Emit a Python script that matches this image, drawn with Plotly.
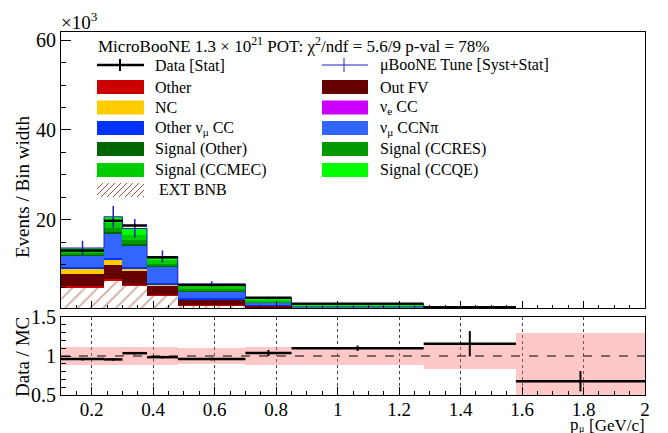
import numpy as np
import plotly.graph_objects as go

# ---------------- data (events / bin width, x10^3) ----------------
bin_edges = [0.1, 0.24, 0.3, 0.38, 0.48, 0.7, 0.85, 1.28, 1.58, 2.0]

ext_bnb       = [5.0, 6.6, 5.3, 3.1, 1.0, 0.4, 0.12, 0.05, 0.02]
other         = [0.25, 0.3, 0.2, 0.2, 0.15, 0.1, 0.05, 0.02, 0.01]
out_fv        = [2.75, 3.1, 3.2, 2.0, 1.05, 0.4, 0.15, 0.06, 0.03]
nc            = [1.1, 1.1, 0.4, 0.25, 0.1, 0.05, 0.02, 0.01, 0.005]
nue_cc        = [0.05, 0.05, 0.05, 0.03, 0.02, 0.02, 0.01, 0.005, 0.002]
other_numu_cc = [0.3, 0.4, 0.4, 0.3, 0.2, 0.1, 0.05, 0.02, 0.01]
numu_ccnpi    = [2.65, 5.45, 4.85, 3.72, 1.58, 0.53, 0.3, 0.12, 0.05]
sig_other     = [0.2, 0.3, 0.3, 0.2, 0.15, 0.1, 0.05, 0.02, 0.01]
sig_ccres     = [0.4, 0.8, 0.8, 0.5, 0.35, 0.25, 0.12, 0.05, 0.02]
sig_ccmec     = [0.45, 1.3, 1.2, 0.7, 0.5, 0.3, 0.15, 0.05, 0.02]
sig_ccqe      = [0.6, 1.3, 1.4, 0.85, 0.65, 0.35, 0.18, 0.07, 0.03]

data_vals = [13.2, 19.8, 18.75, 11.67, 5.52, 2.70, 1.32, 0.55, 0.14]
data_errs = [0.25, 0.35, 0.3, 0.2, 0.1, 0.1, 0.04, 0.077, 0.027]
mc_rel_err_up = [0.115, 0.115, 0.115, 0.115, 0.105, 0.115, 0.115, 0.165, 0.30]
mc_rel_err_dn = [0.115, 0.115, 0.115, 0.115, 0.105, 0.115, 0.115, 0.165, 0.50]

y_ticks_top = [20, 40, 60]

# ---------------- derived ----------------
edges = np.array(bin_edges)
centers = (edges[:-1] + edges[1:]) / 2
widths = np.diff(edges)

stack = [
    ("EXT BNB", ext_bnb, "white"),
    ("Other", other, "#cc0000"),
    ("Out FV", out_fv, "#660000"),
    ("NC", nc, "#ffcc00"),
    ("nue CC", nue_cc, "#cc00ff"),
    ("Other numu CC", other_numu_cc, "#0033ff"),
    ("numu CCNpi", numu_ccnpi, "#3366ff"),
    ("Signal (Other)", sig_other, "#006600"),
    ("Signal (CCRES)", sig_ccres, "#009900"),
    ("Signal (CCMEC)", sig_ccmec, "#00cc00"),
    ("Signal (CCQE)", sig_ccqe, "#00ff00"),
]

FONT = "Liberation Serif"
HATCH = "#a3553d"
MCBLUE = "#2020c0"

fig = go.Figure()

base = np.zeros(len(centers))
for name, vals, col in stack:
    v = np.array(vals, dtype=float)
    marker = dict(color=col, line=dict(width=0))
    if name == "EXT BNB":
        marker["pattern"] = dict(shape="/", fgcolor=HATCH, bgcolor="white",
                                 size=9, solidity=0.2)
    fig.add_trace(go.Bar(x=centers, y=v, base=base.copy(), width=widths,
                         marker=marker, name=name, xaxis="x", yaxis="y",
                         hoverinfo="skip"))
    base = base + v
mc_total = base

up = np.array(mc_rel_err_up)
dn = np.array(mc_rel_err_dn)

# MC outline
fig.add_trace(go.Scatter(x=edges, y=list(mc_total) + [mc_total[-1]],
                         mode="lines", line=dict(shape="hv", color=MCBLUE, width=1),
                         xaxis="x", yaxis="y", hoverinfo="skip"))
# MC error bars
fig.add_trace(go.Scatter(x=centers, y=mc_total, mode="markers",
                         marker=dict(size=1, color=MCBLUE),
                         error_y=dict(type="data", symmetric=False, array=up * mc_total,
                                      arrayminus=dn * mc_total, width=0,
                                      thickness=1.5, color=MCBLUE),
                         xaxis="x", yaxis="y", hoverinfo="skip"))
# Data
fig.add_trace(go.Scatter(x=centers, y=data_vals, mode="markers",
                         marker=dict(size=1, color="black"),
                         error_x=dict(type="data", array=widths / 2, width=0,
                                      thickness=2.5, color="black"),
                         error_y=dict(type="data", array=data_errs, width=0,
                                      thickness=2, color="black"),
                         xaxis="x", yaxis="y", hoverinfo="skip"))

# ---------------- ratio panel ----------------
fig.add_trace(go.Bar(x=centers, base=1 - dn, y=up + dn, width=widths,
                     marker=dict(color="rgba(255,110,110,0.38)", line=dict(width=0)),
                     xaxis="x2", yaxis="y2", hoverinfo="skip"))
ratio = np.array(data_vals) / mc_total
ratio_err = np.array(data_errs) / mc_total
fig.add_trace(go.Scatter(x=centers, y=ratio, mode="markers",
                         marker=dict(size=1, color="black"),
                         error_x=dict(type="data", array=widths / 2, width=0,
                                      thickness=2.5, color="black"),
                         error_y=dict(type="data", array=ratio_err, width=0,
                                      thickness=2, color="black"),
                         xaxis="x2", yaxis="y2", hoverinfo="skip"))

# ---------------- layout ----------------
# The page body adds an 8px offset; the figure is sized so that its
# plot area lands on the reference pixels (61..645, 32..395).
OFF = 8
L, T = 61, 32           # reference pixel of plot-area top-left
PW, PH = 584, 363       # plot-area size
W, H = 668 - OFF, 433 - OFF
ml, mt = L - OFF, T - OFF
mr = W - ml - PW
mb = H - mt - PH


def px(x):
    return (x - L) / PW


def py(y):
    return (T + PH - y) / PH


axis_common = dict(showline=True, linecolor="black", linewidth=1, mirror=True,
                   zeroline=False, tickcolor="black", ticks="inside")

fig.update_layout(
    width=W, height=H, margin=dict(l=ml, r=mr, t=mt, b=mb, autoexpand=False),
    paper_bgcolor="white", plot_bgcolor="white", showlegend=False,
    barmode="overlay", bargap=0,
    font=dict(family=FONT, color="black"),
    xaxis=dict(domain=[0, 1], anchor="y", range=[0.1, 2.0], tick0=0, dtick=0.2,
               ticklen=7, showticklabels=False, showgrid=False,
               minor=dict(ticks="inside", ticklen=3.5, dtick=0.05, tick0=0,
                          tickcolor="black", showgrid=False),
               **axis_common),
    yaxis=dict(domain=[py(308), 1], anchor="x", range=[0.4, 61.8],
               tickvals=y_ticks_top, ticklen=10, showgrid=False,
               tickfont=dict(size=20, family=FONT),
               minor=dict(ticks="inside", ticklen=5, dtick=5, tick0=0,
                          tickcolor="black", showgrid=False),
               **axis_common),
    xaxis2=dict(domain=[0, 1], anchor="y2", range=[0.1, 2.0], tick0=0, dtick=0.2,
                ticklen=8, showgrid=True, griddash="dot", gridcolor="#444",
                gridwidth=1, tickfont=dict(size=19, family=FONT),
                ticklabelstandoff=-3,
                minor=dict(ticks="inside", ticklen=4, dtick=0.05, tick0=0,
                           tickcolor="black", showgrid=False),
                **axis_common),
    yaxis2=dict(domain=[0, py(317)], anchor="x2", range=[0.5, 1.5],
                tickvals=[0.5, 1, 1.5], ticktext=["0.5", "1", "1.5"],
                ticklen=10, showgrid=False, tickfont=dict(size=20, family=FONT),
                minor=dict(ticks="inside", ticklen=5, dtick=0.1, tick0=0,
                           tickcolor="black", showgrid=False),
                **axis_common),
)

shapes = []
# dashed unity line in ratio panel
shapes.append(dict(type="line", xref="x2 domain", x0=0, x1=1, yref="y2", y0=1, y1=1,
                   line=dict(color="black", width=1, dash="dash"), layer="above"))

annotations = []


def text(x, y, s, size=16, xanchor="left", angle=0):
    annotations.append(dict(x=px(x), y=py(y), xref="paper", yref="paper", text=s,
                            showarrow=False, xanchor=xanchor, yanchor="middle",
                            textangle=angle, font=dict(size=size, family=FONT, color="black")))


text(59, 21, "×10<sup>3</sup>", size=19)
text(22, 187, "Events / Bin width", size=19, xanchor="center", angle=-90)
text(22, 357, "Data / MC", size=19, xanchor="center", angle=-90)
# x-axis title: p_mu [GeV/c], built from pieces so the subscript sits low
text(647, 425, "[GeV/c]", size=17, xanchor="right")
text(586, 428.5, "μ", size=10, xanchor="right")
text(581, 424, "p", size=17, xanchor="right")
text(96, 45, "MicroBooNE 1.3 × 10<sup>21</sup> POT: χ<sup>2</sup>/ndf = 5.6/9 p-val = 78%", size=17)

# legend
c1x0, c1x1, c1t = 97, 144, 153
c2x0, c2x1, c2t = 322, 368, 378
rows = [65, 87, 107.5, 128, 149, 170, 190]


def swatch(x0, x1, yc, color):
    shapes.append(dict(type="rect", xref="paper", yref="paper",
                       x0=px(x0), x1=px(x1), y0=py(yc + 7), y1=py(yc - 7),
                       fillcolor=color, line=dict(width=0), layer="above"))


# Data entry
shapes.append(dict(type="line", xref="paper", yref="paper", x0=px(c1x0), x1=px(c1x1),
                   y0=py(rows[0]), y1=py(rows[0]), line=dict(color="black", width=2.5)))
shapes.append(dict(type="line", xref="paper", yref="paper", x0=px(120), x1=px(120),
                   y0=py(rows[0] - 6), y1=py(rows[0] + 6), line=dict(color="black", width=2)))
text(c1t, rows[0], "Data [Stat]")
# MC entry
shapes.append(dict(type="line", xref="paper", yref="paper", x0=px(c2x0), x1=px(c2x1),
                   y0=py(rows[0]), y1=py(rows[0]), line=dict(color=MCBLUE, width=1)))
shapes.append(dict(type="line", xref="paper", yref="paper", x0=px(344), x1=px(344),
                   y0=py(rows[0] - 7), y1=py(rows[0] + 7), line=dict(color=MCBLUE, width=1)))
text(c2t, rows[0], "μBooNE Tune [Syst+Stat]")

left_entries = [("Other", "#cc0000"), ("NC", "#ffcc00"),
                ("Other ν<sub>μ</sub> CC", "#0033ff"), ("Signal (Other)", "#006600"),
                ("Signal (CCMEC)", "#00cc00")]
right_entries = [("Out FV", "#660000"), ("ν<sub>e</sub> CC", "#cc00ff"),
                 ("ν<sub>μ</sub> CCNπ", "#3366ff"), ("Signal (CCRES)", "#009900"),
                 ("Signal (CCQE)", "#00ff00")]
for i, (lab, col) in enumerate(left_entries):
    swatch(c1x0, c1x1, rows[i + 1], col)
    text(c1t, rows[i + 1], lab)
for i, (lab, col) in enumerate(right_entries):
    swatch(c2x0, c2x1, rows[i + 1], col)
    text(c2t, rows[i + 1], lab)

# EXT BNB hatched swatch
yc = rows[6]
yb = yc + 7
for c in np.arange(c1x0 - 14, c1x1, 6.0):
    xs = max(c, c1x0)
    xe = min(c + 14, c1x1)
    if xe <= xs:
        continue
    shapes.append(dict(type="line", xref="paper", yref="paper",
                       x0=px(xs), y0=py(yb - (xs - c)), x1=px(xe), y1=py(yb - (xe - c)),
                       line=dict(color=HATCH, width=1)))
text(c1t + 4, rows[6], "EXT BNB")

fig.update_layout(shapes=shapes, annotations=annotations)
fig.write_html("out.html")
